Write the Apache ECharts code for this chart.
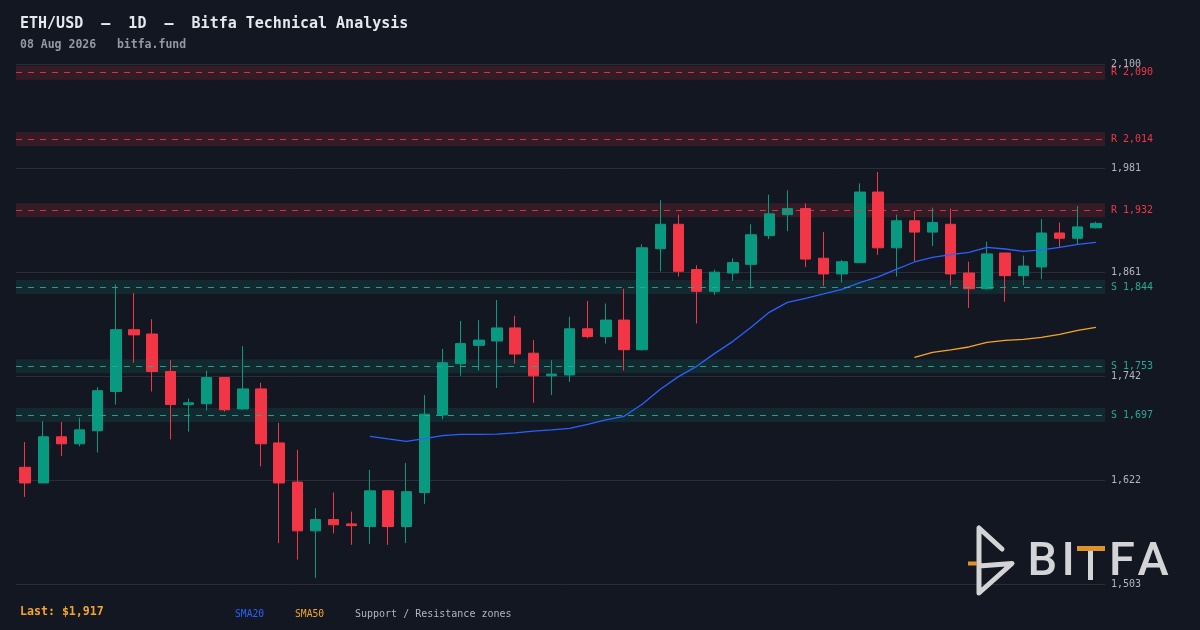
<!DOCTYPE html>
<html>
<head>
<meta charset="utf-8">
<script src="https://cdn.jsdelivr.net/npm/echarts@6/dist/echarts.min.js"></script>
<style>
html,body{margin:0;padding:0;background:#131722;}
#chart{width:1200px;height:630px;}
</style>
</head>
<body>
<div id="chart"></div>
<script>
const categories = [
 '2026-06-10','2026-06-11','2026-06-12','2026-06-13','2026-06-14','2026-06-15','2026-06-16','2026-06-17','2026-06-18','2026-06-19',
 '2026-06-20','2026-06-21','2026-06-22','2026-06-23','2026-06-24','2026-06-25','2026-06-26','2026-06-27','2026-06-28','2026-06-29',
 '2026-06-30','2026-07-01','2026-07-02','2026-07-03','2026-07-04','2026-07-05','2026-07-06','2026-07-07','2026-07-08','2026-07-09',
 '2026-07-10','2026-07-11','2026-07-12','2026-07-13','2026-07-14','2026-07-15','2026-07-16','2026-07-17','2026-07-18','2026-07-19',
 '2026-07-20','2026-07-21','2026-07-22','2026-07-23','2026-07-24','2026-07-25','2026-07-26','2026-07-27','2026-07-28','2026-07-29',
 '2026-07-30','2026-07-31','2026-08-01','2026-08-02','2026-08-03','2026-08-04','2026-08-05','2026-08-06','2026-08-07','2026-08-08'
];
const opens  = [1637,1619,1672,1664,1679,1724,1795,1790,1747,1709,1710,1740,1704,1727,1665,1620,1564,1577,1572,1569,1610,1569,1608,1697,1756,1777,1782,1797,1768,1742,1743,1796,1787,1806,1772,1888,1916,1864,1839,1860,1870,1903,1927,1934,1877,1859,1872,1953,1889,1920,1907,1916,1860,1842,1883,1857,1867,1906,1900,1912];
const closes = [1619,1672,1664,1680,1725,1795,1789,1747,1709,1711,1740,1703,1727,1664,1619,1564,1577,1571,1570,1610,1569,1609,1698,1757,1779,1783,1797,1767,1742,1744,1796,1787,1806,1772,1889,1916,1862,1839,1861,1872,1904,1928,1934,1876,1859,1873,1953,1889,1920,1907,1918,1859,1842,1882,1857,1868,1906,1900,1913,1917];
const lows   = [1603,1619,1650,1661,1654,1709,1757,1724,1669,1678,1702,1701,1703,1638,1550,1531,1510,1561,1548,1549,1548,1550,1595,1692,1742,1748,1728,1756,1711,1720,1735,1785,1779,1748,1771,1862,1856,1802,1835,1851,1842,1899,1908,1867,1845,1849,1872,1881,1856,1873,1891,1846,1820,1841,1827,1846,1853,1890,1893,1911];
const highs  = [1666,1690,1689,1694,1729,1847,1837,1807,1760,1716,1748,1740,1776,1734,1688,1657,1590,1608,1586,1634,1611,1642,1720,1773,1805,1806,1829,1811,1783,1760,1810,1828,1825,1842,1893,1944,1927,1869,1864,1877,1916,1950,1955,1940,1907,1875,1963,1976,1927,1931,1935,1934,1873,1896,1883,1880,1922,1918,1937,1919];
// SMA20 starts at the 20th candle, SMA50 at the 50th
const sma20 = [1672.5,1669.5,1666.8,1669.8,1673.3,1674.8,1674.8,1675,1676.5,1678.6,
 1680,1681.7,1686.3,1691.3,1695.5,1709.3,1726.5,1741.1,1752.9,1767.8,
 1781.6,1797.7,1814.9,1826.4,1831,1836,1841.3,1849,1855.5,1864.3,
 1872.7,1878.1,1881.1,1883.8,1889.5,1887.6,1884.9,1886.5,1889.5,1893,1895.3];
const sma50 = [1763.2,1769,1771.7,1775.1,1780.5,1782.8,1783.9,1786.2,1789.7,1794.2,1797.7];
const resistance = [2090, 2014, 1932];
const support = [1844, 1753, 1697];
const yTicks = {min: 1503, max: 2100, step: 119.4};
const lastPrice = 1917;

const UP = '#089981', DOWN = '#f23645';
const ZONE_HALF = 8;
const mono = 'DejaVu Sans Mono';
const fmt = v => Math.round(v).toLocaleString('en-US');

const ohlc = opens.map((o, i) => [o, closes[i], lows[i], highs[i]]);
const pad = (arr, total) => new Array(total - arr.length).fill(null).concat(arr);

const areas = [];
const lines = [];
resistance.forEach(l => {
  areas.push([{yAxis: l - ZONE_HALF, itemStyle: {color: 'rgba(242,54,69,0.15)'}}, {yAxis: l + ZONE_HALF}]);
  lines.push({yAxis: l, lineStyle: {color: 'rgba(242,54,69,0.85)', type: [6, 6], width: 1},
    label: {formatter: 'R ' + fmt(l), color: '#f23645'}});
});
support.forEach(l => {
  areas.push([{yAxis: l - ZONE_HALF, itemStyle: {color: 'rgba(8,153,129,0.14)'}}, {yAxis: l + ZONE_HALF}]);
  lines.push({yAxis: l, lineStyle: {color: 'rgba(34,171,148,0.9)', type: [6, 6], width: 1},
    label: {formatter: 'S ' + fmt(l), color: '#22ab94'}});
});

const chart = echarts.init(document.getElementById('chart'));
const logoColor = '#d4d4d6';
const orange = '#f5a623';
chart.setOption({
  backgroundColor: '#131722',
  animation: false,
  grid: {left: 16, right: 95, top: 64, bottom: 46},
  xAxis: {
    type: 'category', data: categories, boundaryGap: true,
    axisLine: {show: false}, axisTick: {show: false}, axisLabel: {show: false}, splitLine: {show: false}
  },
  yAxis: {
    type: 'value', position: 'right', scale: true,
    min: yTicks.min, max: yTicks.max, interval: yTicks.step,
    axisLine: {show: false}, axisTick: {show: false},
    splitLine: {lineStyle: {color: '#2a2e39', width: 1}},
    axisLabel: {color: '#b2b5be', fontFamily: mono, fontSize: 10, margin: 6, formatter: v => fmt(v)}
  },
  series: [
    {
      type: 'line', name: 'SMA50', data: pad(sma50, categories.length), z: 1,
      symbol: 'none', lineStyle: {color: orange, width: 1.3}, connectNulls: false,
      markArea: {silent: true, data: areas},
      markLine: {silent: true, symbol: ['none', 'none'], data: lines,
        label: {position: 'end', distance: 6, fontFamily: mono, fontSize: 10}}
    },
    {
      type: 'candlestick', name: 'ETH/USD', data: ohlc, z: 3, barWidth: '60%',
      itemStyle: {color: UP, color0: DOWN, borderColor: UP, borderColor0: DOWN, borderWidth: 1}
    },
    {
      type: 'line', name: 'SMA20', data: pad(sma20, categories.length), z: 4,
      symbol: 'none', lineStyle: {color: '#2962ff', width: 1.3}
    }
  ],
  graphic: [
    {type: 'text', left: 20, top: 17, style: {text: 'ETH/USD  –  1D  –  Bitfa Technical Analysis', fill: '#e6e8ee', font: 'bold 15px "DejaVu Sans Mono"'}},
    {type: 'text', left: 20, top: 39, style: {text: '08 Aug 2026   bitfa.fund', fill: '#9598a1', font: 'bold 11.5px "DejaVu Sans Mono"'}},
    {type: 'text', left: 20, top: 606, style: {text: 'Last: $' + fmt(lastPrice), fill: orange, font: 'bold 11.6px "DejaVu Sans Mono"'}},
    {type: 'text', left: 235, top: 609, style: {text: 'SMA20', fill: '#2962ff', font: '9.7px "DejaVu Sans Mono"'}},
    {type: 'text', left: 295, top: 609, style: {text: 'SMA50', fill: orange, font: '9.7px "DejaVu Sans Mono"'}},
    {type: 'text', left: 355, top: 609, style: {text: 'Support / Resistance zones', fill: '#b2b5be', font: '10px "DejaVu Sans Mono"'}},
    // logo icon
    {type: 'polyline', z: 10, shape: {points: [[1002, 549], [979, 528], [979, 593], [1012, 563.5], [979, 566]]},
      style: {stroke: logoColor, lineWidth: 5, fill: null, lineCap: 'round', lineJoin: 'round'}},
    {type: 'line', z: 10, shape: {x1: 968, y1: 563.5, x2: 977, y2: 563.5}, style: {stroke: '#e0922a', lineWidth: 4}},
    // logo word
    {type: 'text', z: 10, x: 1027.5, y: 563, style: {text: 'B', fill: logoColor, font: '500 47px Roboto', verticalAlign: 'middle'}},
    {type: 'text', z: 10, x: 1061.5, y: 563, style: {text: 'I', fill: logoColor, font: '500 47px Roboto', verticalAlign: 'middle'}},
    {type: 'rect', z: 10, shape: {x: 1077, y: 546, width: 28, height: 5}, style: {fill: '#e0922a'}},
    {type: 'rect', z: 10, shape: {x: 1088, y: 551, width: 5, height: 29}, style: {fill: logoColor}},
    {type: 'text', z: 10, x: 1109, y: 563, style: {text: 'F', fill: logoColor, font: '500 47px Roboto', verticalAlign: 'middle'}},
    {type: 'text', z: 10, x: 1137.5, y: 563, style: {text: 'A', fill: logoColor, font: '500 47px Roboto', verticalAlign: 'middle'}}
  ]
});
</script>
</body>
</html>
